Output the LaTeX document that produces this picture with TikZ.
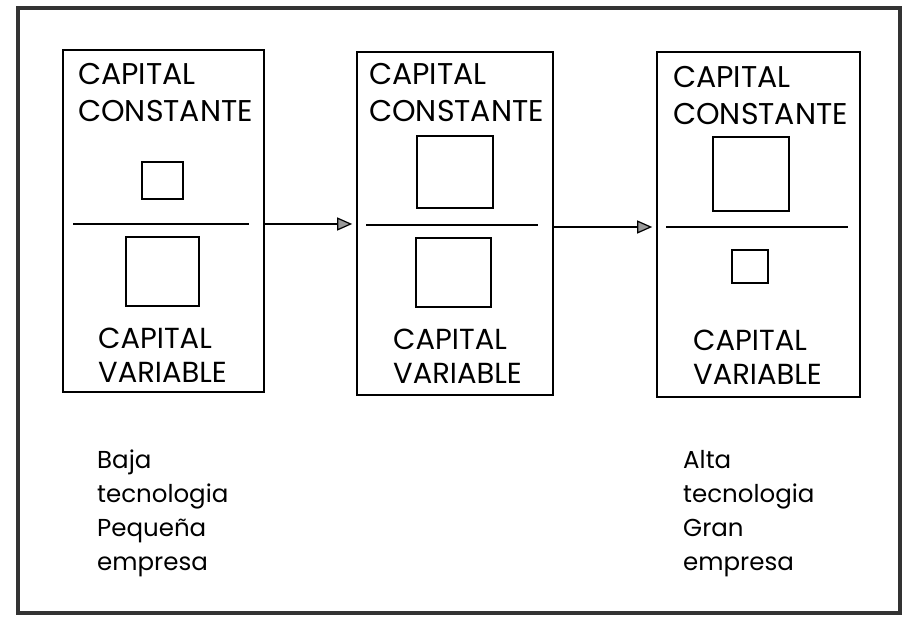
\documentclass[tikz,border=0pt]{standalone}
\usepackage{fontspec}
\setmainfont{Poppins}
\usetikzlibrary{arrows.meta}
\begin{document}
\begin{tikzpicture}[x=1pt,y=-1pt,
  frame/.style={draw=black!80,line width=3.4pt},
  bigbox/.style={draw,line width=1.7pt,inner sep=0pt},
  sq/.style={draw,line width=1.6pt,inner sep=0pt},
  divider/.style={line width=1.6pt},
  lbl/.style={inner sep=0pt,anchor=north west,align=left,font=\fontsize{30}{37}\selectfont},
  lblb/.style={inner sep=0pt,anchor=north west,align=left,font=\fontsize{29}{34}\selectfont},
  note/.style={inner sep=0pt,anchor=north west,align=left,font=\fontsize{24.5}{34}\selectfont},
  flow/.style={line width=1.5pt,-{Triangle[length=15pt,width=13pt,fill=black!40,line width=1.2pt]},shorten >=4pt}]
\useasboundingbox (0,0) rectangle (909,617);
\draw[frame] (18,8) rectangle (900,613);
% big boxes
\node[bigbox,minimum width=201pt,minimum height=342pt] (b1) at (163.5,221) {};
\node[bigbox,minimum width=196pt,minimum height=343pt] (b2) at (455,223.5) {};
\node[bigbox,minimum width=203pt,minimum height=345pt] (b3) at (758.5,224.5) {};
% dividers
\coordinate (d1a) at (73,224); \coordinate (d1b) at (249,224);
\coordinate (d2a) at (366,225); \coordinate (d2b) at (538,225);
\coordinate (d3a) at (666,227); \coordinate (d3b) at (848,227);
\draw[divider] (d1a) -- (d1b);
\draw[divider] (d2a) -- (d2b);
\draw[divider] (d3a) -- (d3b);
% squares
\node[sq,minimum width=41pt,minimum height=37pt] (s1t) at (162.5,180.5) {};
\node[sq,minimum width=73pt,minimum height=69pt] (s1b) at (162.5,271.5) {};
\node[sq,minimum width=76pt,minimum height=72pt] (s2t) at (455,172) {};
\node[sq,minimum width=75pt,minimum height=69pt] (s2b) at (453.5,272.5) {};
\node[sq,minimum width=76pt,minimum height=74pt] (s3t) at (751,174) {};
\node[sq,minimum width=36pt,minimum height=33pt] (s3b) at (750,266.5) {};
% labels
\node[lbl] (t1) at (78,63) {CAPITAL\\CONSTANTE};
\node[lbl] (t2) at (369,63) {CAPITAL\\CONSTANTE};
\node[lbl] (t3) at (673,66) {CAPITAL\\CONSTANTE};
\node[lblb] (v1) at (98,328) {CAPITAL\\VARIABLE};
\node[lblb] (v2) at (393,329) {CAPITAL\\VARIABLE};
\node[lblb] (v3) at (693,330) {CAPITAL\\VARIABLE};
% arrows
\draw[flow] (b1.east |- d1b) -- (b2.west |- d1b);
\draw[flow] (b2.east |- d3a) -- (b3.west |- d3a);
% notes
\node[note] (n1) at (97,450) {Baja\\tecnologia\\Pequeña\\empresa};
\node[note] (n3) at (683,450) {Alta\\tecnologia\\Gran\\empresa};
\end{tikzpicture}
\end{document}
